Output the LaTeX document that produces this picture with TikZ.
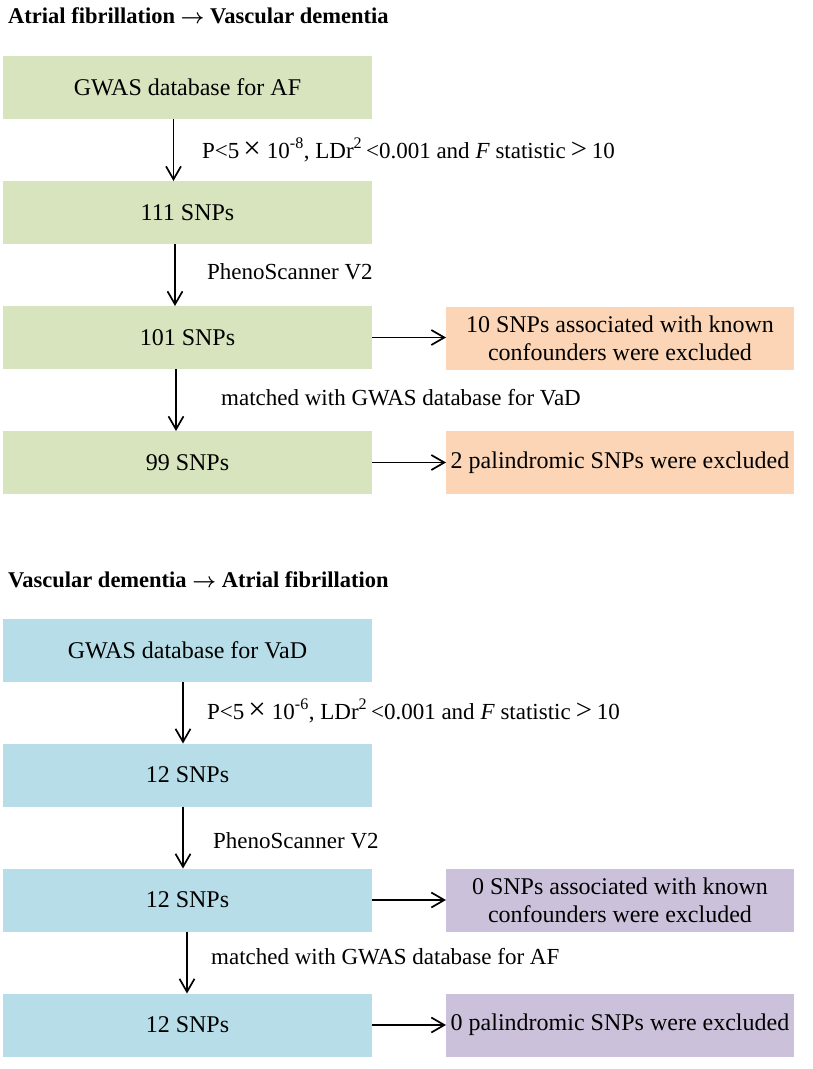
\documentclass[tikz,border=0pt]{standalone}
\usepackage{fontspec}
\setmainfont{Liberation Serif}
\usetikzlibrary{arrows.meta}
\definecolor{gfill}{HTML}{D7E4BD}
\definecolor{ofill}{HTML}{FBD5B5}
\definecolor{bfill}{HTML}{B7DEE8}
\definecolor{pfill}{HTML}{CCC1DA}
\newcommand{\wtimes}{\hspace{4pt}\scalebox{1.35}{×}\hspace{6pt}}
\newcommand{\wgt}{\hspace{5pt}\scalebox{1.25}{>}\hspace{5pt}}
\begin{document}
\begin{tikzpicture}[x=1pt,y=-1pt,
 box/.style={rectangle, inner sep=0pt, outer sep=0pt, minimum height=63pt, align=center, font=\fontsize{24}{28}\selectfont, text=black},
 lbox/.style={box, minimum width=369pt},
 rbox/.style={box, minimum width=348pt},
 lab/.style={anchor=base west, inner sep=0pt, font=\fontsize{23}{27}\selectfont},
 hdr/.style={anchor=base west, inner sep=0pt, font=\fontsize{22.5}{26}\selectfont\bfseries\boldmath},
 arr/.style={-{Straight Barb[length=13pt,width=15pt]}, line width=1.7pt}]
\useasboundingbox (0,0) rectangle (813,1069);

% ---------- Section 1 ----------
\node[hdr] (h1) at (8,23) {Atrial fibrillation $\rightarrow$ Vascular dementia};

\node[lbox, fill=gfill] (g1) at (187.5,87.5) {GWAS database for AF};
\node[lbox, fill=gfill] (g2) at (187.5,212.5) {111 SNPs};
\node[lbox, fill=gfill] (g3) at (187.5,337.5) {101 SNPs};
\node[lbox, fill=gfill] (g4) at (187.5,462.5) {99 SNPs};
\node[rbox, fill=ofill] (o1) at (620,338.5) {10 SNPs associated with known\\confounders were excluded};
\node[rbox, fill=ofill] (o2) at (620,462.5) {2 palindromic SNPs were excluded};

\draw[arr] ([xshift=-14pt]g1.south) -- ([xshift=-14pt]g2.north);
\draw[arr] ([xshift=-12.5pt]g2.south) -- ([xshift=-12.5pt]g3.north);
\draw[arr] ([xshift=-11.5pt]g3.south) -- ([xshift=-11.5pt]g4.north);
\draw[arr] (g3.east) -- (o1.west |- g3.east);
\draw[arr] (g4.east) -- (o2.west);

\node[lab] (l1) at (202,158) {P<5\wtimes10\textsuperscript{-8}, LDr\textsuperscript{2}\,<0.001 and \textit{F} statistic\wgt10};
\node[lab] (l2) at (207,279) {PhenoScanner V2};
\node[lab] (l3) at (221,405) {matched with GWAS database for VaD};

% ---------- Section 2 ----------
\node[hdr] (h2) at (8,587) {Vascular dementia $\rightarrow$ Atrial fibrillation};

\node[lbox, fill=bfill] (b1) at (187.5,650) {GWAS database for VaD};
\node[lbox, fill=bfill] (b2) at (187.5,775) {12 SNPs};
\node[lbox, fill=bfill] (b3) at (187.5,900) {12 SNPs};
\node[lbox, fill=bfill] (b4) at (187.5,1025) {12 SNPs};
\node[rbox, fill=pfill] (p1) at (620,900) {0 SNPs associated with known\\confounders were excluded};
\node[rbox, fill=pfill] (p2) at (620,1025) {0 palindromic SNPs were excluded};

\draw[arr] ([xshift=-4.5pt]b1.south) -- ([xshift=-4.5pt]b2.north);
\draw[arr] ([xshift=-4.5pt]b2.south) -- ([xshift=-4.5pt]b3.north);
\draw[arr] ([xshift=-0.5pt]b3.south) -- ([xshift=-0.5pt]b4.north);
\draw[arr] (b3.east) -- (p1.west);
\draw[arr] (b4.east) -- (p2.west);

\node[lab] (m1) at (207,719) {P<5\wtimes10\textsuperscript{-6}, LDr\textsuperscript{2}\,<0.001 and \textit{F} statistic\wgt10};
\node[lab] (m2) at (213,848) {PhenoScanner V2};
\node[lab] (m3) at (211,964) {matched with GWAS database for AF};
\end{tikzpicture}
\end{document}
